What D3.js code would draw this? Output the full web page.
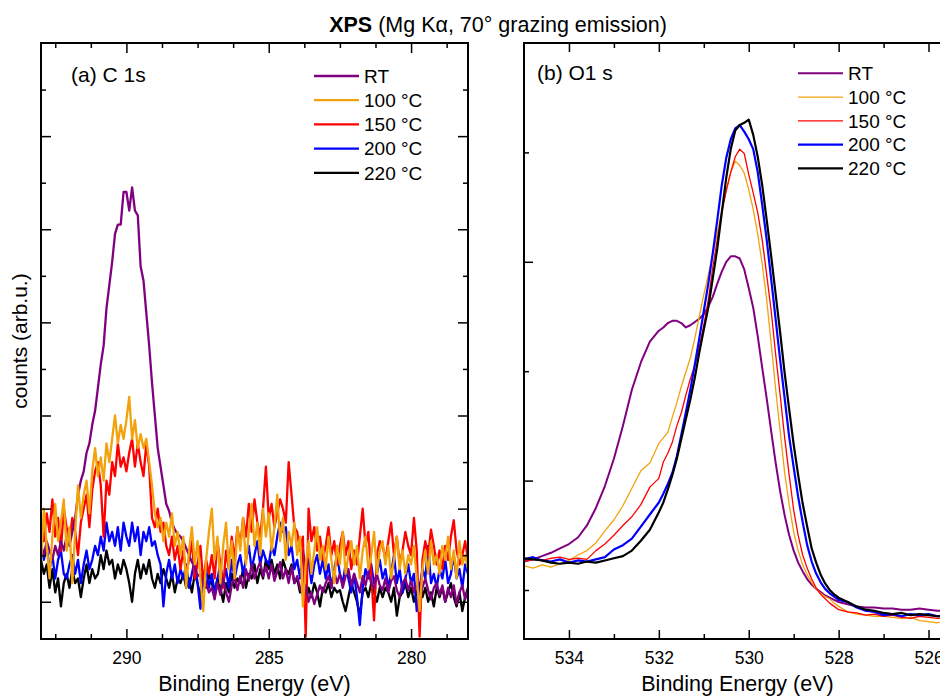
<!DOCTYPE html>
<html lang="en">
<head>
<meta charset="UTF-8">
<title>XPS C 1s / O 1s</title>
<script src="https://cdn.jsdelivr.net/npm/d3@7"></script>
<style>
    body { margin: 0; background: #fff; }
    svg { display: block; font-family: "Liberation Sans", Arial, sans-serif; }
    .tick line { stroke: #000; stroke-width: 1.5; }
    .tick text { font-size: 17.5px; fill: #000; }
</style>
</head>
<body>
<svg id="chart" width="940" height="697"></svg>
<script>
"use strict";

// ---------- data ----------

var seriesNames = ["RT", "100 °C", "150 °C", "200 °C", "220 °C"];
var seriesColors = ["#800080", "#f2a20c", "#ff0000", "#0000ff", "#000000"];

// (a) C 1s, one value every 0.1 eV from 293.0 eV down to 278.0 eV
var c1sStart = 293.0, c1sStep = 0.1;

var c1sRT = [
    1.2, 1.0, 1.3, 1.1, 0.9, 1.2, 1.0, 1.3, 1.1, 1.4,
    1.2, 1.5, 1.8, 2.3, 2.6, 2.8, 3.2, 3.4, 3.8, 4.1,
    4.6, 5.1, 5.5, 6.3, 6.8, 7.3, 7.9, 8.1, 8.1, 8.8,
    8.8, 8.4, 8.9, 8.4, 8.3, 7.2, 6.9, 6.2, 5.5, 4.7,
    4.0, 3.3, 2.9, 2.5, 2.1, 1.95, 1.7, 1.55, 1.45, 1.4,
    1.3, 1.15, 1.0, 0.85, 0.75, 0.55, 0.6, 0.35, 0.4, 0.2,
    0.3, 0.05, 0.4, 0.15, 0.5, 0.2, 0.0, 0.35, 0.55, 0.25,
    0.55, 0.3, 0.7, 0.45, 0.8, 0.5, 0.7, 0.85, 0.55, 0.75,
    0.5, 0.8, 0.45, 0.65, 0.85, 0.5, 0.7, 0.4, 0.75, 0.4,
    0.55, 0.3, 0.15, 0.35, 0.0, 0.2, -0.05, 0.15, 0.35, 0.2,
    0.4, 0.55, 0.3, 0.65, 0.4, 0.6, 0.3, 0.55, 0.7, 0.35,
    0.6, 0.4, 0.2, 0.55, 0.35, 0.65, 0.4, 0.3, 0.6, 0.35,
    0.25, 0.5, 0.2, 0.45, 0.55, 0.25, 0.1, 0.4, 0.5, 0.25,
    0.45, 0.2, 0.4, 0.1, 0.3, 0.5, 0.25, 0.05, 0.3, 0.4,
    0.15, 0.35, 0.0, 0.3, 0.1, 0.35, -0.05, 0.2, 0.35, 0.05, 0.25
];

var c1s100 = [
    0.8, 2.0, 1.2, 0.5, 1.4, 2.1, 1.3, 1.7, 2.2, 1.1,
    1.6, 0.4, 1.5, 2.5, 1.8, 2.3, 2.6, 1.9, 2.8, 3.3,
    2.7, 3.1, 2.6, 3.4, 3.0, 3.5, 4.0, 3.4, 3.8, 3.5,
    3.9, 4.4, 3.5, 3.9, 3.3, 3.6, 3.3, 3.5, 3.0, 2.5,
    1.9, 1.6, 1.8, 1.3, 1.7, 1.4, 1.9, 1.2, 1.5, 1.0,
    1.4, 0.3, 1.1, 1.6, 0.8, 1.3, 0.5, -0.2, 0.9, 1.5,
    2.0, 0.9, 1.4, 0.4, 1.2, 1.7, 0.7, 1.3, 0.5, 1.6,
    1.1, 1.8, 0.8, 1.5, 2.1, 1.2, 1.7, 1.0, 2.0, 1.4,
    1.9, 1.1, 1.6, 2.3, 1.3, 1.8, 0.9, 1.5, 1.2, 1.7,
    1.0, 1.4, -0.1, 0.8, 1.3, 0.6, 1.1, 1.6, 0.9, 1.2,
    0.7, 1.4, 0.9, 0.4, 1.2, 0.8, 1.5, 0.6, 1.0, 1.3,
    0.8, 1.2, 0.5, 1.1, 1.4, 0.7, 1.0, 1.5, 0.6, 1.1,
    1.3, 0.8, 1.2, 0.5, 0.9, 1.4, 0.7, 1.1, 0.6, 1.0,
    0.8, 1.2, 0.5, -0.2, 0.7, 1.1, 0.6, 1.3, 0.8, 1.0,
    0.6, 1.2, 0.9, 1.4, 0.7, 1.1, 0.5, 1.3, 0.8, 1.0, 0.7
];

var c1s150 = [
    1.6, 1.3, 1.9, 1.5, 2.2, 1.4, 1.8, 1.1, 2.0, 1.6,
    1.3, 1.8, 1.5, 1.0, 1.7, 2.0, 2.3, 1.6, 2.4, 2.8,
    3.0, 2.5, 1.4, 2.6, 2.3, 3.0, 2.7, 3.4, 2.9, 3.1,
    2.8, 3.2, 3.5, 2.9, 3.4, 3.0, 2.7, 3.4, 2.9, 1.8,
    1.6, 2.0, 1.5, 1.7, 1.2, 1.0, 1.4, 0.9, 1.2, 0.7,
    1.1, 0.6, 0.9, 1.3, 0.5, 0.8, 1.2, 0.4, 0.9, 0.6,
    1.0, 0.5, 1.3, 0.8, 0.3, 1.1, 0.7, 1.4, 0.9, 1.6,
    1.2, 1.8, 1.4, 2.1, 1.5, 2.2, 1.7, 1.4, 2.0, 2.9,
    1.8, 2.1, 1.6, 1.9, 2.2, 2.0, 1.7, 3.0, 2.3, 1.6,
    1.5, 1.1, 1.4, -0.75, 2.0, 1.3, 1.6, 1.1, 1.4, 0.9,
    1.2, 1.6, 1.0, 1.3, 0.8, 1.2, 1.5, 1.0, 1.3, 0.7,
    1.1, 0.8, 1.4, 2.0, 1.2, 1.5, 0.6, -0.4, 1.0, 1.3,
    1.2, 0.9, 1.3, 1.7, 1.0, 1.4, 0.8, 1.1, 1.5, 1.2,
    1.0, 1.8, 1.1, -0.75, 0.9, 1.3, 1.0, 1.55, 1.2, 0.8,
    1.1, 0.7, 1.2, 0.9, 1.4, 1.75, 1.1, 0.8, 1.0, 1.3, 0.9
];

var c1s200 = [
    1.3, 0.9, 1.2, 0.7, 1.0, 0.5, 0.9, 1.1, 0.6, 0.5,
    0.8, 1.0, 0.6, 0.9, 0.4, 0.8, 1.1, 0.7, 0.9, 1.2,
    1.0, 1.4, 1.1, 1.7, 1.3, 1.5, 1.2, 1.6, 1.1, 1.7,
    1.4, 1.2, 1.7, 1.3, 1.6, 1.0, 1.5, 1.3, 1.6, 1.2,
    1.3, 1.0, 0.8, -0.1, 0.6, 0.9, 0.5, 0.8, 0.4, 0.7,
    0.5, 0.8, 0.3, 0.6, 0.9, 0.4, -0.15, 0.5, 0.7, 0.3,
    0.6, 0.2, 0.5, 0.8, 0.4, 0.7, 0.3, 0.9, 0.5, 0.8,
    1.0, 0.6, 0.9, 1.2, 0.7, 1.0, 1.3, 0.8, 1.1, 0.9,
    0.8, 1.2, 1.0, 1.4, 1.7, 1.5, 1.6, 1.0, 1.2, 0.7,
    0.9, 0.5, 1.1, 0.7, 0.9, 0.4, 0.8, 1.0, 0.6, 0.9,
    0.5, 0.8, 0.3, 0.7, 1.0, 0.6, 0.4, 0.8, 0.5, 0.2,
    0.6, 0.1, -0.5, 0.3, 0.7, 0.5, 0.8, 0.4, 0.6, 0.9,
    0.5, 0.7, 0.3, 0.6, 1.0, 0.4, 0.7, 0.2, 0.5, 0.8,
    0.4, 0.6, -0.2, 0.3, 0.7, 0.5, 1.2, 0.4, 0.6, 0.3,
    0.7, 0.5, 0.9, 0.4, 0.6, 1.0, 0.5, 0.7, 0.3, 0.8, 0.6
];

var c1s220 = [
    0.9, 0.6, 0.8, 0.3, 0.7, 0.2, 0.5, -0.1, 0.4, 0.6,
    0.3, 0.7, 0.4, 0.5, 0.1, 0.5, 0.8, 0.4, 0.7, 0.5,
    0.6, 1.0, 0.7, 1.1, 0.8, 0.9, 0.5, 0.8, 0.6, 0.9,
    0.7, 0.4, 0.0, 0.6, 0.9, 0.5, 0.8, 0.6, 0.9, 0.5,
    0.3, 0.6, 0.4, 0.7, 0.5, 0.3, 0.6, 0.2, 0.5, 0.4,
    0.6, 0.3, 0.5, 0.2, 0.6, 0.4, 0.1, 0.5, 0.3, 0.6,
    0.4, 0.2, 0.5, 0.3, 0.0, 0.4, 0.2, 0.6, 0.3, 0.5,
    0.4, 0.7, 0.3, 0.6, 0.5, 0.8, 0.4, 0.7, 0.5, 0.9,
    0.7, 0.9, 0.6, 0.8, 0.5, 0.9, 0.7, 0.6, 0.8, 0.4,
    0.5, 0.2, 0.4, 0.0, 0.3, 0.1, 0.4, 0.2, -0.1, 0.3,
    0.2, 0.4, 0.1, 0.3, 0.2, 0.25, 0.0, -0.2, 0.1, 0.4,
    0.2, 0.0, -0.3, 0.2, 0.3, 0.1, 0.4, 0.2, 0.0, 0.3,
    0.1, 0.3, 0.2, 0.0, 0.3, -0.3, 0.1, 0.2, 0.4, 0.1,
    0.3, 0.0, 0.2, 0.4, 0.1, 0.3, 0.0, 0.2, -0.1, 0.3,
    0.1, 0.3, 0.0, 0.2, 0.4, 0.1, -0.1, 0.2, -0.2, 0.1, 0.3
];

// (b) O 1s, energies (eV) shared by all five curves
var o1sEnergy = [
    535.0, 534.8, 534.6, 534.4, 534.2, 534.0, 533.8, 533.6, 533.4, 533.2,
    533.0, 532.8, 532.6, 532.4, 532.2, 532.0, 531.9, 531.8, 531.7, 531.6,
    531.5, 531.4, 531.3, 531.2, 531.1, 531.0, 530.9, 530.8, 530.7, 530.6,
    530.5, 530.4, 530.3, 530.2, 530.1, 530.0, 529.9, 529.8, 529.7, 529.6,
    529.5, 529.4, 529.3, 529.2, 529.1, 529.0, 528.9, 528.8, 528.7, 528.6,
    528.5, 528.4, 528.3, 528.2, 528.1, 528.0, 527.8, 527.6, 527.4, 527.2,
    527.0, 526.8, 526.6, 526.4, 526.2, 526.0, 525.8, 525.6
];

var o1sRT = [
    1.26, 1.28, 1.31, 1.34, 1.38, 1.42, 1.48, 1.59, 1.75, 1.95,
    2.20, 2.50, 2.83, 3.08, 3.27, 3.37, 3.40, 3.44, 3.46, 3.46,
    3.44, 3.40, 3.42, 3.45, 3.48, 3.52, 3.59, 3.68, 3.80, 3.91,
    4.00, 4.05, 4.05, 4.03, 3.93, 3.76, 3.58, 3.32, 3.03, 2.75,
    2.45, 2.16, 1.90, 1.68, 1.50, 1.36, 1.25, 1.17, 1.10, 1.05,
    1.01, 0.98, 0.95, 0.93, 0.91, 0.89, 0.87, 0.85, 0.84, 0.84,
    0.83, 0.83, 0.82, 0.82, 0.83, 0.82, 0.81, 0.81
];

var o1s100 = [
    1.22, 1.20, 1.23, 1.21, 1.24, 1.27, 1.32, 1.36, 1.43, 1.54,
    1.64, 1.77, 1.93, 2.09, 2.16, 2.34, 2.39, 2.44, 2.58, 2.71,
    2.86, 2.99, 3.12, 3.30, 3.50, 3.70, 3.88, 4.07, 4.26, 4.47,
    4.65, 4.82, 4.92, 4.88, 4.81, 4.66, 4.48, 4.25, 3.98, 3.65,
    3.25, 2.83, 2.45, 2.07, 1.78, 1.53, 1.36, 1.23, 1.14, 1.07,
    1.01, 0.97, 0.94, 0.92, 0.88, 0.85, 0.80, 0.78, 0.77, 0.76,
    0.76, 0.75, 0.74, 0.75, 0.72, 0.71, 0.70, 0.72
];

var o1s150 = [
    1.26, 1.28, 1.27, 1.29, 1.30, 1.28, 1.29, 1.28, 1.36, 1.42,
    1.50, 1.59, 1.67, 1.78, 1.94, 2.02, 2.17, 2.25, 2.35, 2.50,
    2.62, 2.78, 2.93, 3.05, 3.22, 3.42, 3.65, 3.95, 4.20, 4.45,
    4.65, 4.82, 4.96, 5.03, 4.99, 4.80, 4.63, 4.45, 4.20, 3.88,
    3.55, 3.15, 2.78, 2.39, 2.05, 1.73, 1.50, 1.32, 1.20, 1.10,
    1.02, 0.96, 0.92, 0.88, 0.85, 0.82, 0.80, 0.79, 0.77, 0.78,
    0.76, 0.77, 0.75, 0.74, 0.76, 0.75, 0.74, 0.75
];

var o1s200 = [
    1.28, 1.30, 1.27, 1.26, 1.28, 1.25, 1.27, 1.26, 1.28, 1.30,
    1.37, 1.41, 1.47, 1.58, 1.69, 1.80, 1.88, 1.97, 2.07, 2.22,
    2.42, 2.62, 2.83, 3.06, 3.30, 3.55, 3.80, 4.08, 4.38, 4.70,
    4.95, 5.12, 5.22, 5.25, 5.19, 5.12, 5.03, 4.82, 4.52, 4.20,
    3.84, 3.47, 3.10, 2.75, 2.40, 2.12, 1.85, 1.62, 1.41, 1.26,
    1.15, 1.07, 1.01, 0.97, 0.94, 0.91, 0.89, 0.84, 0.81, 0.80,
    0.77, 0.78, 0.76, 0.78, 0.77, 0.78, 0.76, 0.77
];

var o1s220 = [
    1.29, 1.28, 1.27, 1.25, 1.24, 1.25, 1.24, 1.26, 1.25, 1.27,
    1.29, 1.31, 1.36, 1.45, 1.55, 1.71, 1.80, 1.92, 2.05, 2.20,
    2.38, 2.56, 2.74, 2.94, 3.17, 3.38, 3.58, 3.85, 4.12, 4.45,
    4.77, 5.03, 5.20, 5.25, 5.27, 5.30, 5.16, 4.96, 4.70, 4.38,
    4.05, 3.70, 3.35, 2.98, 2.65, 2.33, 2.05, 1.79, 1.58, 1.38,
    1.25, 1.14, 1.06, 1.00, 0.96, 0.93, 0.89, 0.85, 0.82, 0.81,
    0.79, 0.78, 0.79, 0.77, 0.78, 0.77, 0.76, 0.76
];

// tick positions
var c1sMajor = [290, 285, 280];
var c1sMinor = [292.5, 291.25, 288.75, 287.5, 286.25, 283.75, 282.5, 281.25, 278.75];
var c1sYMajor = [0, 2, 4, 6, 8, 10];
var c1sYMinor = [1, 3, 5, 7, 9, 11];

var o1sMajor = [534, 532, 530, 528, 526];
var o1sMinor = [533, 531, 529, 527];
var o1sYMajor = [2, 4];
var o1sYMinor = [1, 3, 5];

// ---------- drawing ----------

(function() {

    var svg = d3.select("#chart");

    var top = 43, bottom = 639;

    function addAxis(g, axisFn, scale, values, size, pos, labels) {

        var ax = axisFn(scale)
            .tickValues(values)
            .tickSizeInner(-size)
            .tickSizeOuter(0)
            .tickPadding(12.5);

        if (!labels) ax.tickFormat("");

        var a = g.append("g")
            .attr("transform", pos)
            .call(ax);

        a.select(".domain").remove();
        a.selectAll(".tick text").attr("font-family", null).attr("font-size", null);
    }

    function drawPanel(p) {

        var x = d3.scaleLinear().domain(p.xDomain).range([p.left, p.right]);
        var y = d3.scaleLinear().domain(p.yDomain).range([bottom, top]);

        var g = svg.append("g");

        g.append("clipPath")
            .attr("id", p.id + "-clip")
            .append("rect")
            .attr("x", p.left).attr("y", top)
            .attr("width", p.right - p.left).attr("height", bottom - top);

        // curves
        var plot = g.append("g").attr("clip-path", "url(#" + p.id + "-clip)");

        p.order.forEach(function(k) {

            var line = d3.line()
                .x(function(d, i) { return x(p.energy(i)); })
                .y(function(d) { return y(d); });

            plot.append("path")
                .datum(p.series[k])
                .attr("d", line)
                .attr("fill", "none")
                .attr("stroke", seriesColors[k])
                .attr("stroke-width", p.widths[k])
                .attr("stroke-linejoin", "round");
        });

        // ticks on all sides, pointing inward
        var mj = p.majorLen, mn = 5;
        addAxis(g, d3.axisBottom, x, p.xMajor, mj, "translate(0," + bottom + ")", true);
        addAxis(g, d3.axisBottom, x, p.xMinor, mn, "translate(0," + bottom + ")", false);
        addAxis(g, d3.axisTop, x, p.xMajor, mj, "translate(0," + top + ")", false);
        addAxis(g, d3.axisTop, x, p.xMinor, mn, "translate(0," + top + ")", false);
        addAxis(g, d3.axisLeft, y, p.yMajor, mj, "translate(" + p.left + ",0)", false);
        addAxis(g, d3.axisLeft, y, p.yMinor, mn, "translate(" + p.left + ",0)", false);
        addAxis(g, d3.axisRight, y, p.yMajor, mj, "translate(" + p.right + ",0)", false);
        addAxis(g, d3.axisRight, y, p.yMinor, mn, "translate(" + p.right + ",0)", false);

        // frame
        g.append("rect")
            .attr("x", p.left).attr("y", top)
            .attr("width", p.right - p.left).attr("height", bottom - top)
            .attr("fill", "none")
            .attr("stroke", "#000")
            .attr("stroke-width", 2);

        g.append("text")
            .attr("x", p.labelX).attr("y", p.labelY)
            .attr("font-size", 21)
            .text(p.label);

        g.append("text")
            .attr("x", (p.left + p.right) / 2).attr("y", 691)
            .attr("text-anchor", "middle")
            .attr("font-size", 21.5)
            .text("Binding Energy (eV)");

        // legend
        var leg = g.append("g");

        seriesNames.forEach(function(name, k) {

            var yy = p.legY + k * p.legStep;

            leg.append("line")
                .attr("x1", p.legX).attr("x2", p.legX + 45)
                .attr("y1", yy).attr("y2", yy)
                .attr("stroke", seriesColors[k])
                .attr("stroke-width", p.widths[k]);

            leg.append("text")
                .attr("x", p.legX + 50).attr("y", yy)
                .attr("dy", "0.36em")
                .attr("font-size", 19)
                .text(name);
        });
    }

    drawPanel({
        id: "c1s",
        left: 41, right: 468,
        xDomain: [293, 278], yDomain: [-0.8, 12.0],
        energy: function(i) { return c1sStart - i * c1sStep; },
        series: [c1sRT, c1s100, c1s150, c1s200, c1s220],
        order: [4, 3, 2, 0, 1],
        widths: [2.3, 2.3, 2.3, 2.3, 2.3],
        xMajor: c1sMajor, xMinor: c1sMinor,
        yMajor: c1sYMajor, yMinor: c1sYMinor,
        majorLen: 10,
        label: "(a) C 1s", labelX: 71, labelY: 82,
        legX: 314, legY: 76, legStep: 24.2
    });

    drawPanel({
        id: "o1s",
        left: 524, right: 951,
        xDomain: [535, 525.5], yDomain: [0.552, 6.0],
        energy: function(i) { return o1sEnergy[i]; },
        series: [o1sRT, o1s100, o1s150, o1s200, o1s220],
        order: [0, 1, 2, 3, 4],
        widths: [2, 1.3, 1.3, 2.2, 2.2],
        xMajor: o1sMajor, xMinor: o1sMinor,
        yMajor: o1sYMajor, yMinor: o1sYMinor,
        majorLen: 9,
        label: "(b) O1 s", labelX: 537, labelY: 80,
        legX: 798, legY: 73.3, legStep: 23.75
    });

    // shared y title and figure title
    svg.append("text")
        .attr("transform", "translate(27,341) rotate(-90)")
        .attr("text-anchor", "middle")
        .attr("font-size", 21)
        .text("counts (arb.u.)");

    var title = svg.append("text")
        .attr("x", 498).attr("y", 32)
        .attr("text-anchor", "middle")
        .attr("font-size", 21.5);

    title.append("tspan").attr("font-weight", "bold").text("XPS");
    title.append("tspan").text(" (Mg Kα, 70° grazing emission)");

})();
</script>
</body>
</html>
